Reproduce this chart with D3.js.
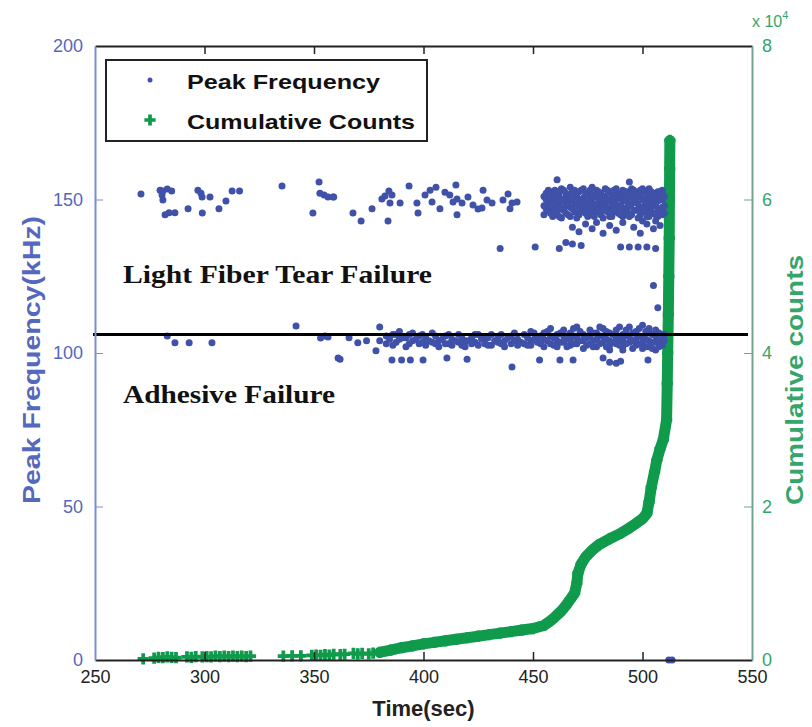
<!DOCTYPE html>
<html>
<head>
<meta charset="utf-8">
<script src="https://cdn.jsdelivr.net/npm/d3@7"></script>
<style>
  body { margin: 0; background: #fff; }
  svg { display: block; }
</style>
</head>
<body>
<div id="chart"></div>
<script>
// time (s) / frequency (kHz) pairs
var peakFrequency = [
  // sparse upper band
  [271,151.8],[279.7,153],[281,152.8],[283,153.4],[285,152.8],[280.6,151.5],[281,149.8],
  [282,145],[283.8,145.7],[286.5,145.7],[292.5,147],[297,153],[298.4,152],[298.9,150.8],
  [302.5,150.8],[299,145.6],[306.6,147],[309.8,149.5],[312.6,152.8],[316,152.8],[335.4,154.4],
  [349.5,145.6],[352.3,155.7],[352.7,152],[354.6,151.5],[356.4,150.8],[359,150.8],[358.7,150.8],
  [367.8,145.6],[371.5,143],[376.5,147],[381,150.2],[382.4,151.1],[384.2,152.8],[385.6,151.5],
  [384.7,148.9],[389.3,148.9],[383.8,143],[393.4,154.4],[397,148.9],[397.5,145.6],[400.7,151.5],
  [403,153],[405.7,154],[403.9,149.2],[407.5,147],[409.8,152.4],[412,151.5],[414.8,154.7],
  [413.5,149.2],[415.3,150.2],[417.6,148.9],[415.3,145],[420.3,150.8],[422.6,148.2],[424.9,146.9],
  [427.2,153],[429,149.8],[431.3,148.9],[426.7,147.2],[436.3,149.8],[438.6,151.8],[440.4,148.9],
  [442.7,149.2],[439.5,147],
  // dense upper cluster
  [455,148],[455,151],[455,145],[457,153],[457,149],[457,146.5],[459,150],[459,147],[459,152.5],
  [459,144.5],[461,156.4],[461,148.5],[461,151],[461,146],[463,153.5],[463,149.5],[463,147],
  [463,144],[465,152],[465,148],[465,145.5],[465,150.5],[467,154],[467,150],[467,147.5],[467,144.5],
  [469,151.5],[469,148.5],[469,146],[469,153],[471,149],[471,152.5],[471,145],[471,147.5],
  [473,150.5],[473,153.5],[473,146.5],[473,148],[475,152],[475,149],[475,144.5],[475,147],
  [477,154],[477,150.5],[477,147.5],[477,145.5],[479,151],[479,148],[479,153],[479,146],
  [481,149.5],[481,152],[481,145],[481,147.5],[481,150.5],[483,153.5],[483,148.5],[483,146.5],
  [483,151],[485,150],[485,147],[485,152.5],[485,144.5],[487,151.5],[487,149],[487,146],[487,153],
  [489,148],[489,150.5],[489,145.5],[489,152],[491,153],[491,149.5],[491,147],[491,144.5],[491,151],
  [493,150],[493,147.5],[493,152.5],[493,146],[494,155.7],[495,151.5],[495,148.5],[495,145],
  [495,153.5],[497,149],[497,152],[497,146.5],[497,150.5],[499,153],[499,147.5],[499,145],[499,151],
  [501,150],[501,148],[501,152.5],[501,146],[503,151.5],[503,149],[503,144.5],[503,153.5],[503,147],
  [505,150.5],[505,148],[505,152],[505,145.5],[507,152.5],[507,149.5],[507,147],[507,144.5],
  [507,151],[509,150],[509,147.5],[509,153],[509,145],
  [456,150],[456,147],[456,152],[458,148],[458,151.5],[458,145.5],[460,149.5],[460,153],[460,146.5],
  [462,151],[462,148],[462,144.5],[462,152.5],[464,150],[464,146.5],[464,153],[466,148.5],
  [466,151.5],[466,145],[468,150],[468,147],[468,152.5],[470,148.5],[470,151],[470,144],
  [472,150],[472,146],[472,153],[474,148.5],[474,151.5],[474,145.5],[476,150],[476,147.5],
  [476,153],[478,148.5],[478,151.5],[478,144.5],[480,150],[480,146.5],[480,152.5],[482,147.5],
  [482,151],[482,144],[484,149.5],[484,146],[484,153],[486,148],[486,151],[486,144.5],[488,150],
  [488,146.5],[488,153.5],[490,148],[490,151.5],[490,145],[492,149.5],[492,146],[492,152.5],
  [494,148],[494,151],[494,144.5],[496,150],[496,146.5],[496,153],[498,148.5],[498,151.5],
  [498,144],[500,150],[500,146.5],[500,153.5],[502,148],[502,151],[502,144.5],[504,150],
  [504,146],[504,152.5],[506,148.5],[506,151.5],[506,145],[508,150],[508,146.5],[508,152.5],
  [510,148],[510,151],[510,145.5],
  // 139-143 kHz row
  [468,141],[471,139.5],[474,142],[477,140.5],[479,142.5],[482,139],[485,141.5],[488,140],
  [491,142.5],[496,141],[499,139],[502,142],[505,140.5],[508,141.5],[506,143],[500,143],
  // ~135 kHz row
  [435,134],[451,134.5],[462,134],[465,136],[468,135.5],[472,135],[490,134.5],[494,134.5],
  [498,134.5],[502,134.5],[506,134],[505,122],[507,114.7],
  // lower band, sparse
  [283,105.5],[286.5,103.3],[293,103.3],[303.4,103.3],[341.8,108.8],[353,104.9],[355,105.5],
  [356.4,105.2],[361,98.4],[361.9,98],[366,105],[370,103.3],[374,104],[378.3,100.7],[385.6,97.7],
  [390,97.7],[394,97.7],[399.8,97.7],[410.7,98.4],[419.9,98],[440.4,95.4],[453,97.7],[462.3,97.7],
  [468.3,97.7],[482,98.4],[485,97],[488,96.7],[490,97.3],[502.5,97.7],
  // lower band, dense
  [380,108.5],[380,104],[383,103],[383,105.5],[386,106],[386,102.5],[389,104.5],[389,107],
  [392,102],[392,105],[395,104],[395,106.5],[398,103],[398,105.5],[401,105],[401,102.5],
  [404,106.5],[404,103.5],[407,104],[407,102],[410,105.5],[410,103],[413,102.5],[413,104.5],
  [416,106],[416,103.5],[419,104],[419,102],[422,105],[422,103],[425,102.5],[425,106],
  [428,104.5],[428,103],[431,106],[431,102.5],[434,103.5],[434,105],[437,104],[437,102],
  [440,105.5],[440,103],[443,102.5],[443,104.5],[446,106],[446,103],[449,104],[449,102.5],
  [449,107],[452,105],[452,103.5],[455,102],[455,104.5],[455,106.5],[458,105.5],[458,103],
  [458,108],[461,104],[461,102],[461,106],[464,103.5],[464,105.5],[464,107.5],[467,102.5],
  [467,104.5],[467,106.5],[470,105],[470,103],[470,108.5],[473,104],[473,101.5],[473,106],
  [476,103],[476,105.5],[476,107.5],[479,104.5],[479,102],[479,106.5],[482,105.5],[482,103.5],
  [482,108],[485,102.5],[485,104],[485,106.5],[485,101],[488,105],[488,103],[488,107.5],
  [491,104],[491,102],[491,106],[491,101],[494,103.5],[494,105.5],[494,108.5],[497,102.5],
  [497,104.5],[497,107],[500,105],[500,103],[500,109],[500,101.5],[503,104],[503,102],
  [503,106.5],[503,108],[506,103.5],[506,105.5],[506,101],[506,107.5],[509,104.5],[509,102.5],
  [509,106],
  [384.5,104.5],[387.5,103.5],[387.5,106],[390.5,105],[393.5,103],[393.5,106],[396.5,104.5],
  [399.5,103.5],[399.5,106],[402.5,104],[405.5,105.5],[405.5,103],[408.5,104.5],[411.5,106],
  [411.5,103],[414.5,104],[417.5,105],[417.5,102.5],[420.5,104],[423.5,103.5],[423.5,106],
  [426.5,104.5],[429.5,105],[429.5,102.5],[432.5,104],[435.5,103],[435.5,106],[438.5,105],
  [441.5,104],[441.5,106.5],[444.5,103.5],[447.5,105],[447.5,102.5],[450.5,104.5],[450.5,106.5],
  [453.5,103],[453.5,105.5],[456.5,104],[456.5,107],[459.5,102.5],[459.5,105],[462.5,103.5],
  [462.5,106.5],[465.5,104.5],[465.5,102],[468.5,103],[468.5,105.5],[468.5,108],[471.5,104],
  [471.5,107],[474.5,102.5],[474.5,105],[477.5,104],[477.5,106.5],[477.5,102],[480.5,103],
  [480.5,105.5],[480.5,108.5],[483.5,104.5],[483.5,102],[483.5,107],[486.5,103.5],[486.5,106],
  [489.5,104.5],[489.5,102.5],[489.5,108.5],[492.5,103],[492.5,105.5],[492.5,107.5],[495.5,104],
  [495.5,101.5],[495.5,106.5],[498.5,103],[498.5,105.5],[498.5,108],[501.5,104.5],[501.5,102],
  [501.5,107],[504.5,103.5],[504.5,106],[504.5,101.5],[507.5,104],[507.5,102],[507.5,106.5],
  [510,104],[510,106],
  // at zero
  [512,0],[513.5,0]
];

// time (s) / cumulative AE counts
var cumulativeCounts = [
  [272,150],[277,250],[279,350],[281,300],[283,400],[285,350],[287,300],[292,400],[294,350],
  [296,450],[299,400],[301,450],[303,400],[305,500],[307,450],[309,500],[311,450],[313,500],
  [315,450],[317,500],[319,450],[321,500],[336,500],[340,550],[344,550],[349,600],[351,650],
  [353,600],[355,700],[357,650],[359,750],[362,700],[364,750],[368,850],[370,800],[372,850],
  [375,800],[377,900],[380,1000],[385,1300],[390,1600],[395,1850],[400,2100],[405,2300],
  [410,2500],[415,2700],[420,2900],[425,3100],[430,3300],[435,3500],[440,3700],[445,3900],
  [450,4100],[455,4500],[458,5100],[460,5600],[463,6400],[465,7100],[467,7900],[469,8700],
  [470,10000],[470.5,11300],[472,12500],[474,13400],[477,14300],[480,15000],[485,15800],
  [490,16500],[494,17200],[497,17800],[500,18400],[502,19100],[503,20600],[504,22500],
  [505.5,24500],[506.5,26000],[508,27500],[509.5,28700],[511,31300],[511.3,36000],
  [511.5,40000],[511.8,45000],[512,50000],[512.2,55000],[512.3,60000],[512.4,64000],[512.5,67700]
];

var timeTicks = [250, 300, 350, 400, 450, 500, 550];
var freqTicks = [0, 50, 100, 150, 200];
var countTicks = [0, 20000, 40000, 60000, 80000];
var boundaryFreq = 106;

var W = 812, H = 727;
var pL = 95, pR = 752, pT = 46, pB = 660;
var blue = "#3f51a8", green = "#109a4c";
var blueText = "#5468bd", greenText = "#35a56a";

var svg = d3.select("#chart").append("svg")
    .attr("width", W)
    .attr("height", H)
    .style("font-family", "'Liberation Sans', Arial, sans-serif");

var x = d3.scaleLinear().domain([250, 550]).range([pL, pR]);
var yL = d3.scaleLinear().domain([0, 200]).range([pB, pT]);
var yR = d3.scaleLinear().domain([0, 80000]).range([pB, pT]);

// cumulative counts: thick band where the markers pile up, plus markers
var dense = cumulativeCounts.filter(function (d) { return d[0] >= 378; });
svg.append("path")
    .datum(dense)
    .attr("fill", "none")
    .attr("stroke", green)
    .attr("stroke-width", 11)
    .attr("stroke-linecap", "round")
    .attr("stroke-linejoin", "round")
    .attr("d", d3.line().x(function (d) { return x(d[0]); }).y(function (d) { return yR(d[1]); }));

var plus = d3.symbol().type(d3.symbolCross).size(70);
svg.append("g").selectAll("path")
    .data(cumulativeCounts)
    .enter().append("path")
    .attr("d", plus)
    .attr("transform", function (d) { return "translate(" + x(d[0]) + "," + yR(d[1]) + ")"; })
    .attr("fill", green);

// peak frequency dots
svg.append("g").selectAll("circle")
    .data(peakFrequency)
    .enter().append("circle")
    .attr("cx", function (d) { return x(d[0]); })
    .attr("cy", function (d) { return yL(d[1]); })
    .attr("r", 3.5)
    .attr("fill", blue);

// boundary line between the two failure modes
svg.append("line")
    .attr("x1", pL - 2)
    .attr("x2", pR - 4)
    .attr("y1", yL(boundaryFreq))
    .attr("y2", yL(boundaryFreq))
    .attr("stroke", "#000")
    .attr("stroke-width", 3);

// axes
var gB = svg.append("g").attr("transform", "translate(0," + pB + ")")
    .call(d3.axisBottom(x).tickValues(timeTicks).tickSize(-8).tickPadding(10).tickSizeOuter(0));
var gT = svg.append("g").attr("transform", "translate(0," + pT + ")")
    .call(d3.axisTop(x).tickValues(timeTicks).tickSize(-8).tickFormat("").tickSizeOuter(0));
var gL = svg.append("g").attr("transform", "translate(" + pL + ",0)")
    .call(d3.axisLeft(yL).tickValues(freqTicks).tickSize(-8).tickPadding(12).tickSizeOuter(0));
var gR = svg.append("g").attr("transform", "translate(" + pR + ",0)")
    .call(d3.axisRight(yR).tickValues(countTicks).tickSize(-8).tickPadding(10).tickSizeOuter(0)
        .tickFormat(function (d) { return d / 10000; }));

[gB, gT].forEach(function (g) {
    g.select(".domain").attr("stroke", "#222").attr("stroke-width", 2);
    g.selectAll(".tick line").attr("stroke", "#222").attr("stroke-width", 1.5);
});
gL.select(".domain").attr("stroke", "#7e8ad6").attr("stroke-width", 2);
gL.selectAll(".tick line").attr("stroke", "#7e8ad6");
gR.select(".domain").attr("stroke", "#6fa58c").attr("stroke-width", 2);
gR.selectAll(".tick line").attr("stroke", "#6fa58c");

gB.selectAll(".tick text").attr("fill", "#222").style("font-size", "18px");
gL.selectAll(".tick text").attr("fill", blueText).style("font-size", "18px");
gR.selectAll(".tick text").attr("fill", greenText).style("font-size", "18px");
gB.selectAll(".tick line").filter(function (d) { return d === 250 || d === 550; }).remove();
gT.selectAll(".tick line").filter(function (d) { return d === 250 || d === 550; }).remove();
gL.selectAll(".tick line").filter(function (d) { return d === 0 || d === 200; }).remove();
gR.selectAll(".tick line").filter(function (d) { return d === 0 || d === 80000; }).remove();

// exponent label
var ex = svg.append("text").attr("x", 752).attr("y", 27).attr("fill", greenText).style("font-size", "16px");
ex.append("tspan").text("x 10");
ex.append("tspan").attr("dy", -8).style("font-size", "11px").text("4");

// axis titles
svg.append("text")
    .attr("transform", "translate(" + (x(400)) + ",716)")
    .attr("text-anchor", "middle")
    .attr("fill", "#222")
    .style("font-size", "22px").style("font-weight", "bold")
    .text("Time(sec)");

svg.append("text")
    .attr("transform", "translate(40,360) rotate(-90)")
    .attr("text-anchor", "middle")
    .attr("fill", blueText)
    .style("font-size", "24px").style("font-weight", "bold")
    .attr("textLength", 288).attr("lengthAdjust", "spacingAndGlyphs")
    .text("Peak Frequency(kHz)");

svg.append("text")
    .attr("transform", "translate(803,380) rotate(-90)")
    .attr("text-anchor", "middle")
    .attr("fill", greenText)
    .style("font-size", "23px").style("font-weight", "bold")
    .attr("textLength", 250).attr("lengthAdjust", "spacingAndGlyphs")
    .text("Cumulative counts");

// region annotations
svg.append("text").attr("x", 123).attr("y", 283)
    .style("font-family", "'Liberation Serif', 'Times New Roman', serif")
    .style("font-size", "25px").style("font-weight", "bold").attr("fill", "#111")
    .attr("textLength", 309).attr("lengthAdjust", "spacingAndGlyphs")
    .text("Light Fiber Tear Failure");
svg.append("text").attr("x", 123).attr("y", 403)
    .style("font-family", "'Liberation Serif', 'Times New Roman', serif")
    .style("font-size", "25px").style("font-weight", "bold").attr("fill", "#111")
    .attr("textLength", 212).attr("lengthAdjust", "spacingAndGlyphs")
    .text("Adhesive Failure");

// legend
var lg = svg.append("g");
lg.append("rect").attr("x", 106).attr("y", 60).attr("width", 321).attr("height", 81)
    .attr("fill", "#fff").attr("stroke", "#222").attr("stroke-width", 2);
lg.append("circle").attr("cx", 150).attr("cy", 80).attr("r", 2.5).attr("fill", blue);
lg.append("path").attr("d", plus).attr("transform", "translate(150,120)").attr("fill", green);
lg.append("text").attr("x", 187).attr("y", 89).attr("fill", "#111")
    .style("font-size", "21px").style("font-weight", "bold")
    .attr("textLength", 193).attr("lengthAdjust", "spacingAndGlyphs")
    .text("Peak Frequency");
lg.append("text").attr("x", 187).attr("y", 129).attr("fill", "#111")
    .style("font-size", "21px").style("font-weight", "bold")
    .attr("textLength", 228).attr("lengthAdjust", "spacingAndGlyphs")
    .text("Cumulative Counts");
</script>
</body>
</html>
